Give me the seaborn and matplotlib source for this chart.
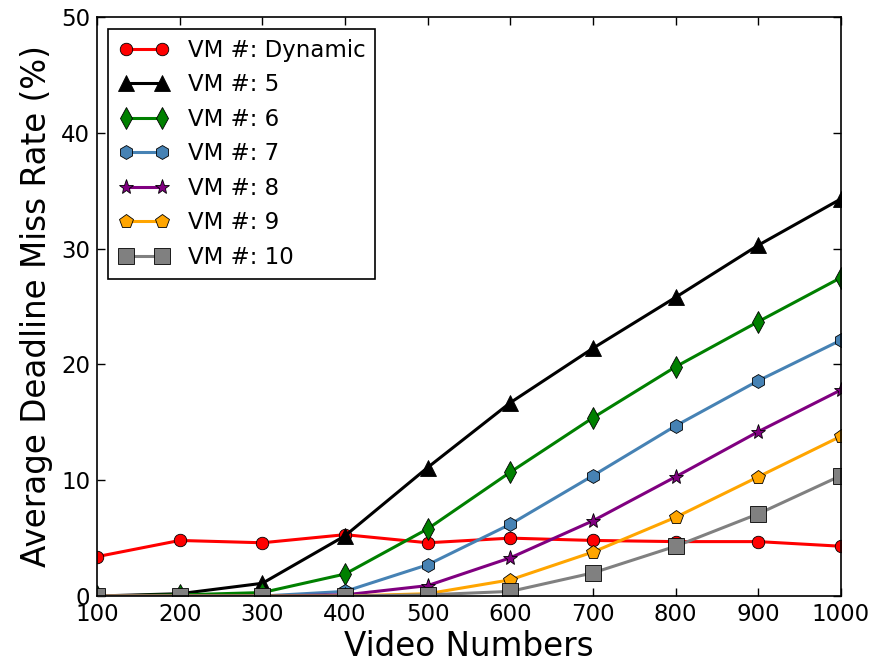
import numpy as np
import pandas as pd
import matplotlib
matplotlib.use("Agg")
import matplotlib.pyplot as plt
import seaborn as sns

# values
videos = [100, 200, 300, 400, 500, 600, 700, 800, 900, 1000]
vm_dynamic = [3.4, 4.8, 4.6, 5.3, 4.6, 5.0, 4.8, 4.7, 4.7, 4.3]
vm_5 = [0.0, 0.2, 1.1, 5.2, 11.1, 16.7, 21.4, 25.8, 30.3, 34.3]
vm_6 = [0.0, 0.1, 0.3, 1.9, 5.8, 10.7, 15.4, 19.8, 23.7, 27.5]
vm_7 = [0.0, 0.0, 0.0, 0.4, 2.7, 6.2, 10.4, 14.7, 18.6, 22.1]
vm_8 = [0.0, 0.0, 0.0, 0.1, 0.9, 3.3, 6.5, 10.3, 14.2, 17.8]
vm_9 = [0.0, 0.0, 0.0, 0.0, 0.2, 1.4, 3.8, 6.8, 10.3, 13.8]
vm_10 = [0.0, 0.0, 0.0, 0.0, 0.1, 0.4, 2.0, 4.3, 7.1, 10.4]

labels = ["VM #: Dynamic", "VM #: 5", "VM #: 6", "VM #: 7",
          "VM #: 8", "VM #: 9", "VM #: 10"]
series = [vm_dynamic, vm_5, vm_6, vm_7, vm_8, vm_9, vm_10]
colors = ["red", "black", "green", "steelblue", "purple", "orange", "gray"]
markers = ["o", "^", "d", "h", "*", "p", "s"]
msizes = [9, 11, 11, 10, 11, 10, 11]

sns.set_style("ticks")
plt.rcParams["font.family"] = ["DejaVu Sans"]
plt.rcParams["xtick.direction"] = "in"
plt.rcParams["ytick.direction"] = "in"
plt.rcParams["text.color"] = "black"
plt.rcParams["axes.labelcolor"] = "black"
plt.rcParams["xtick.color"] = "black"
plt.rcParams["ytick.color"] = "black"

fig = plt.figure(figsize=(8.82, 6.67), dpi=100)
ax = fig.add_axes([0.110, 0.1064, 0.8435, 0.868])

for lab, vals, c, m, ms in zip(labels, series, colors, markers, msizes):
    df = pd.DataFrame({"x": videos, "y": vals})
    sns.lineplot(data=df, x="x", y="y", ax=ax, color=c, marker=m,
                 markersize=ms, markeredgecolor="black", markeredgewidth=0.6,
                 linewidth=2.2, label=lab)

ax.set_xlim(100, 1000)
ax.set_ylim(0, 50)
ax.set_xticks(np.arange(100, 1001, 100))
ax.set_yticks(np.arange(0, 51, 10))
ax.tick_params(labelsize=16.5, top=True, right=True, length=6, width=1,
               pad=5)
ax.set_xlabel("Video Numbers", fontsize=23.5, labelpad=3)
ax.set_ylabel("Average Deadline Miss Rate (%)", fontsize=23.5, labelpad=6)
for s in ax.spines.values():
    s.set_linewidth(1.2)
    s.set_color("black")

leg = ax.legend(loc="upper left", fontsize=16.5, numpoints=2,
                fancybox=False, framealpha=1, edgecolor="black",
                handlelength=2.2, borderpad=0.45, labelspacing=0.5,
                borderaxespad=0.5)
leg.get_frame().set_linewidth(1.2)

fig.savefig("out.png", dpi=100)
